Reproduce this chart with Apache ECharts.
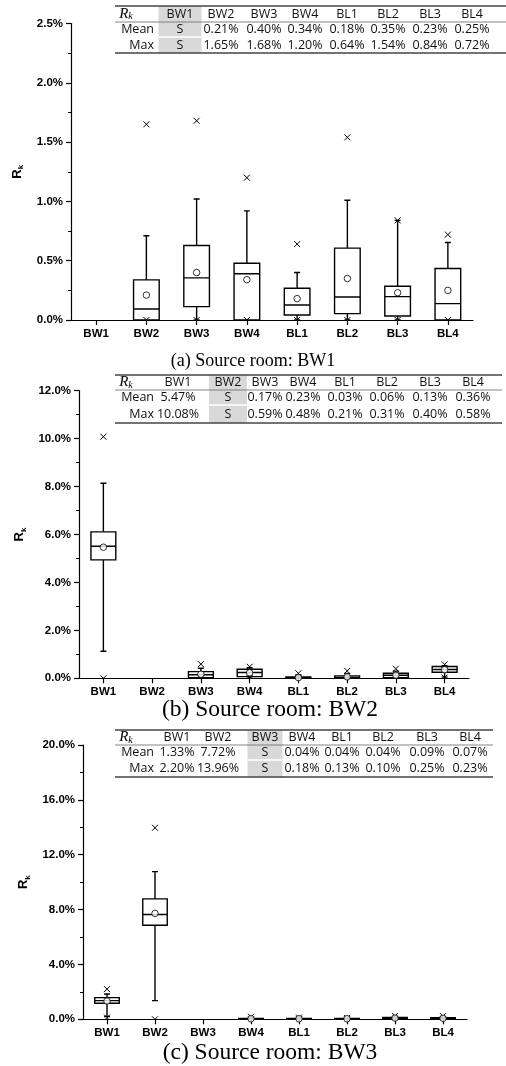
<!DOCTYPE html>
<html>
<head>
<meta charset="utf-8">
<script src="https://cdn.jsdelivr.net/npm/echarts@6/dist/echarts.min.js"></script>
<style>
  html, body { margin: 0; padding: 0; background: #fff; }
  #chart { width: 506px; height: 1066px; }
</style>
</head>
<body>
<div id="chart"></div>
<script>
// Receiving rooms (x categories)
const categories = ['BW1', 'BW2', 'BW3', 'BW4', 'BL1', 'BL2', 'BL3', 'BL4'];

// Box statistics in % : [whisker low, Q1, median, Q3, whisker high]; null = source room
const boxesA = [null, [0, 0, 0.093, 0.338, 0.71], [0, 0.113, 0.355, 0.628, 1.02], [0, 0, 0.39, 0.479, 0.92],
  [0, 0.042, 0.127, 0.268, 0.40], [0, 0.054, 0.194, 0.606, 1.01], [0, 0.034, 0.197, 0.285, 0.84], [0, 0, 0.138, 0.434, 0.654]];
const meanA = [null, 0.21, 0.40, 0.34, 0.18, 0.35, 0.23, 0.25];
const maxA = [null, 1.65, 1.68, 1.20, 0.64, 1.54, 0.84, 0.72];
const minA = [null, 0, 0, 0, 0, 0, 0, 0];

const boxesB = [[1.13, 4.94, 5.51, 6.11, 8.14], null, [0, 0.028, 0.15, 0.278, 0.42], [0, 0.07, 0.24, 0.375, 0.44],
  [0, 0, 0.02, 0.055, 0.15], [0, 0, 0.04, 0.10, 0.20], [0, 0.03, 0.13, 0.21, 0.30], [0.05, 0.25, 0.37, 0.49, 0.53]];
const meanB = [5.47, null, 0.17, 0.23, 0.03, 0.06, 0.13, 0.36];
const maxB = [10.08, null, 0.59, 0.48, 0.21, 0.31, 0.40, 0.58];
const minB = [0, null, 0, 0, 0, 0, 0, 0.03];

const boxesC = [[0.2, 1.17, 1.36, 1.58, 1.85], [1.36, 6.86, 7.64, 8.78, 10.77], null, [0, 0, 0.02, 0.07, 0.12],
  [0, 0, 0.02, 0.07, 0.10], [0, 0, 0.02, 0.06, 0.08], [0, 0.02, 0.07, 0.13, 0.20], [0, 0.02, 0.05, 0.11, 0.18]];
const meanC = [1.33, 7.72, null, 0.04, 0.04, 0.04, 0.09, 0.07];
const maxC = [2.20, 13.96, null, 0.18, 0.13, 0.10, 0.25, 0.23];
const minC = [0.12, 0, null, 0, 0, 0, 0, 0];

// y-axis ranges (%)
const yMaxes = [2.5, 12, 20];
const yIntervals = [0.5, 2, 4];
const captions = ['(a) Source room: BW1', '(b) Source room: BW2', '(c) Source room: BW3'];
const rowNames = ['Mean', 'Max'];

// ---- layout ----
const grids = [
  { left: 71, top: 23.5, width: 402, height: 296.5 },
  { left: 79, top: 390.7, width: 390, height: 287.6 },
  { left: 83, top: 745, width: 384, height: 274.3 }
];
const tables = [
  { x0: 115, x1: 506, lines: [6, 22, 37, 53], cols: [180, 221, 264, 305, 347, 388, 430, 472], cellW: 43, labelX: 154, rkX: 126 },
  { x0: 115, x1: 502, lines: [375, 390, 405, 423], cols: [178, 228, 265, 303, 345, 387, 430, 473], cellW: 38, labelX: 154, rkX: 126 },
  { x0: 115, x1: 493, lines: [730, 745, 760, 777], cols: [177, 218, 265, 302, 342, 383, 427, 470], cellW: 35, labelX: 154, rkX: 126 }
];
const captionPos = [
  { x: 253, y: 361, size: 18 },
  { x: 270, y: 710, size: 23.5 },
  { x: 270, y: 1053, size: 23.5 }
];

const panels = [
  { boxes: boxesA, mean: meanA, max: maxA, min: minA },
  { boxes: boxesB, mean: meanB, max: maxB, min: minB },
  { boxes: boxesC, mean: meanC, max: maxC, min: minC }
];

const AXIS_FONT = 'Liberation Sans, Arial, sans-serif';
const TABLE_FONT = 'Open Sans, Noto Sans, sans-serif';

// box + whiskers with short caps
function renderBox(params, api) {
  const i = api.value(0);
  const lo = api.coord([i, api.value(1)]);
  const q1 = api.coord([i, api.value(2)]);
  const md = api.coord([i, api.value(3)]);
  const q3 = api.coord([i, api.value(4)]);
  const hi = api.coord([i, api.value(5)]);
  const band = api.size([1, 0])[0];
  const hw = band * 0.255;
  const cap = 3;
  const x = lo[0];
  const st = { stroke: '#000', lineWidth: 1.4, fill: null };
  return {
    type: 'group',
    children: [
      { type: 'line', shape: { x1: x, y1: q3[1], x2: x, y2: hi[1] }, style: st },
      { type: 'line', shape: { x1: x, y1: q1[1], x2: x, y2: lo[1] }, style: st },
      { type: 'line', shape: { x1: x - cap, y1: hi[1], x2: x + cap, y2: hi[1] }, style: st },
      { type: 'line', shape: { x1: x - cap, y1: lo[1], x2: x + cap, y2: lo[1] }, style: st },
      { type: 'rect', shape: { x: x - hw, y: q3[1], width: hw * 2, height: Math.max(q1[1] - q3[1], 0.8) },
        style: { stroke: '#000', lineWidth: 1.4, fill: '#fff' } },
      { type: 'line', shape: { x1: x - hw, y1: md[1], x2: x + hw, y2: md[1] }, style: st }
    ]
  };
}

// "x" markers for extreme values (clipped to the plot area)
function renderCross(params, api) {
  const p = api.coord([api.value(0), api.value(1)]);
  const s = 3;
  const st = { stroke: '#000', lineWidth: 1 };
  return {
    type: 'group',
    children: [
      { type: 'line', shape: { x1: p[0] - s, y1: p[1] - s, x2: p[0] + s, y2: p[1] + s }, style: st },
      { type: 'line', shape: { x1: p[0] - s, y1: p[1] + s, x2: p[0] + s, y2: p[1] - s }, style: st }
    ]
  };
}

const xAxes = [], yAxes = [], series = [], graphics = [];

panels.forEach((pn, k) => {
  xAxes.push({
    type: 'category', gridIndex: k, data: categories, boundaryGap: true,
    axisLine: { lineStyle: { color: '#000', width: 1.2 } },
    axisTick: { show: true, alignWithLabel: true, length: 5, lineStyle: { color: '#000', width: 1.2 } },
    axisLabel: { color: '#000', fontFamily: AXIS_FONT, fontWeight: 'bold', fontSize: 11.5, margin: 8 },
    splitLine: { show: false }
  });
  yAxes.push({
    type: 'value', gridIndex: k, min: 0, max: yMaxes[k], interval: yIntervals[k],
    name: '{r|R}{s|k}', nameLocation: 'middle', nameGap: 46, nameRotate: 90,
    nameTextStyle: {
      rich: {
        r: { fontFamily: AXIS_FONT, fontWeight: 'bold', fontSize: 13, color: '#000', lineHeight: 16 },
        s: { fontFamily: AXIS_FONT, fontWeight: 'bold', fontSize: 8, color: '#000', verticalAlign: 'bottom', lineHeight: 8 }
      }
    },
    axisLine: { show: true, lineStyle: { color: '#000', width: 1.2 } },
    axisTick: { show: true, length: 5, lineStyle: { color: '#000', width: 1.2 } },
    minorTick: { show: true, splitNumber: 2, length: 3, lineStyle: { color: '#000', width: 1 } },
    splitLine: { show: false },
    axisLabel: {
      color: '#000', fontFamily: AXIS_FONT, fontWeight: 'bold', fontSize: 11.5, margin: 8,
      formatter: v => v.toFixed(1) + '%'
    }
  });

  const boxData = [], meanData = [], crossData = [];
  pn.boxes.forEach((b, i) => {
    if (b) boxData.push([i].concat(b));
    if (pn.mean[i] != null) meanData.push([i, pn.mean[i]]);
    if (pn.max[i] != null) crossData.push([i, pn.max[i]]);
    if (pn.min[i] != null) crossData.push([i, pn.min[i]]);
  });

  series.push({
    type: 'custom', xAxisIndex: k, yAxisIndex: k, renderItem: renderBox,
    encode: { x: 0, y: [1, 2, 3, 4, 5] }, data: boxData, clip: true, z: 2
  });
  series.push({
    type: 'custom', xAxisIndex: k, yAxisIndex: k, renderItem: renderCross,
    encode: { x: 0, y: 1 }, data: crossData, clip: true, z: 3
  });
  series.push({
    type: 'scatter', xAxisIndex: k, yAxisIndex: k, data: meanData, symbol: 'circle', symbolSize: 6.5,
    itemStyle: { color: '#fff', borderColor: '#000', borderWidth: 1 }, z: 4, silent: true
  });

  // summary table above each plot
  const t = tables[k];
  const srcIdx = pn.boxes.findIndex(b => b === null);
  const L = t.lines;
  const sc = t.cols[srcIdx];
  graphics.push({ type: 'rect', shape: { x: sc - t.cellW / 2, y: L[0], width: t.cellW, height: L[3] - L[0] }, style: { fill: '#d9d9d9' } });
  graphics.push({ type: 'line', shape: { x1: sc - t.cellW / 2, y1: L[2], x2: sc + t.cellW / 2, y2: L[2] }, style: { stroke: '#fff', lineWidth: 1.5 } });
  graphics.push({ type: 'line', shape: { x1: t.x0, y1: L[0], x2: t.x1, y2: L[0] }, style: { stroke: '#444', lineWidth: 1.3 } });
  graphics.push({ type: 'line', shape: { x1: t.x0, y1: L[1], x2: t.x1, y2: L[1] }, style: { stroke: '#666', lineWidth: 0.8 } });
  graphics.push({ type: 'line', shape: { x1: t.x0, y1: L[3], x2: t.x1, y2: L[3] }, style: { stroke: '#444', lineWidth: 1.3 } });

  const rowY = [(L[0] + L[1]) / 2, (L[1] + L[2]) / 2, (L[2] + L[3]) / 2];
  graphics.push({
    type: 'text', x: t.rkX, y: rowY[0],
    style: {
      text: '{r|R}{s|k}', align: 'center', verticalAlign: 'middle',
      rich: {
        r: { fontFamily: 'Liberation Serif, serif', fontStyle: 'italic', fontSize: 15, fill: '#000', lineHeight: 15 },
        s: { fontFamily: 'Liberation Serif, serif', fontStyle: 'italic', fontSize: 10, fill: '#000', verticalAlign: 'bottom', lineHeight: 9 }
      }
    }
  });
  const tf = { fontFamily: TABLE_FONT, fontSize: 12.5, fill: '#111', verticalAlign: 'middle' };
  categories.forEach((c, i) => {
    graphics.push({ type: 'text', x: t.cols[i], y: rowY[0], style: Object.assign({ text: c, align: 'center' }, tf) });
    const vals = [pn.mean[i], pn.max[i]];
    vals.forEach((v, r) => {
      graphics.push({
        type: 'text', x: t.cols[i], y: rowY[r + 1],
        style: Object.assign({ text: v == null ? 'S' : v.toFixed(2) + '%', align: 'center' }, tf)
      });
    });
  });
  rowNames.forEach((n, r) => {
    graphics.push({ type: 'text', x: t.labelX, y: rowY[r + 1], style: Object.assign({ text: n, align: 'right' }, tf) });
  });

  const cp = captionPos[k];
  graphics.push({
    type: 'text', x: cp.x, y: cp.y,
    style: { text: captions[k], align: 'center', verticalAlign: 'middle', fontFamily: 'Liberation Serif, Times New Roman, serif', fontSize: cp.size, fill: '#000' }
  });
});

const chart = echarts.init(document.getElementById('chart'), null, { renderer: 'canvas' });
chart.setOption({
  animation: false,
  backgroundColor: '#fff',
  grid: grids,
  xAxis: xAxes,
  yAxis: yAxes,
  series: series,
  graphic: { elements: graphics }
});
</script>
</body>
</html>
